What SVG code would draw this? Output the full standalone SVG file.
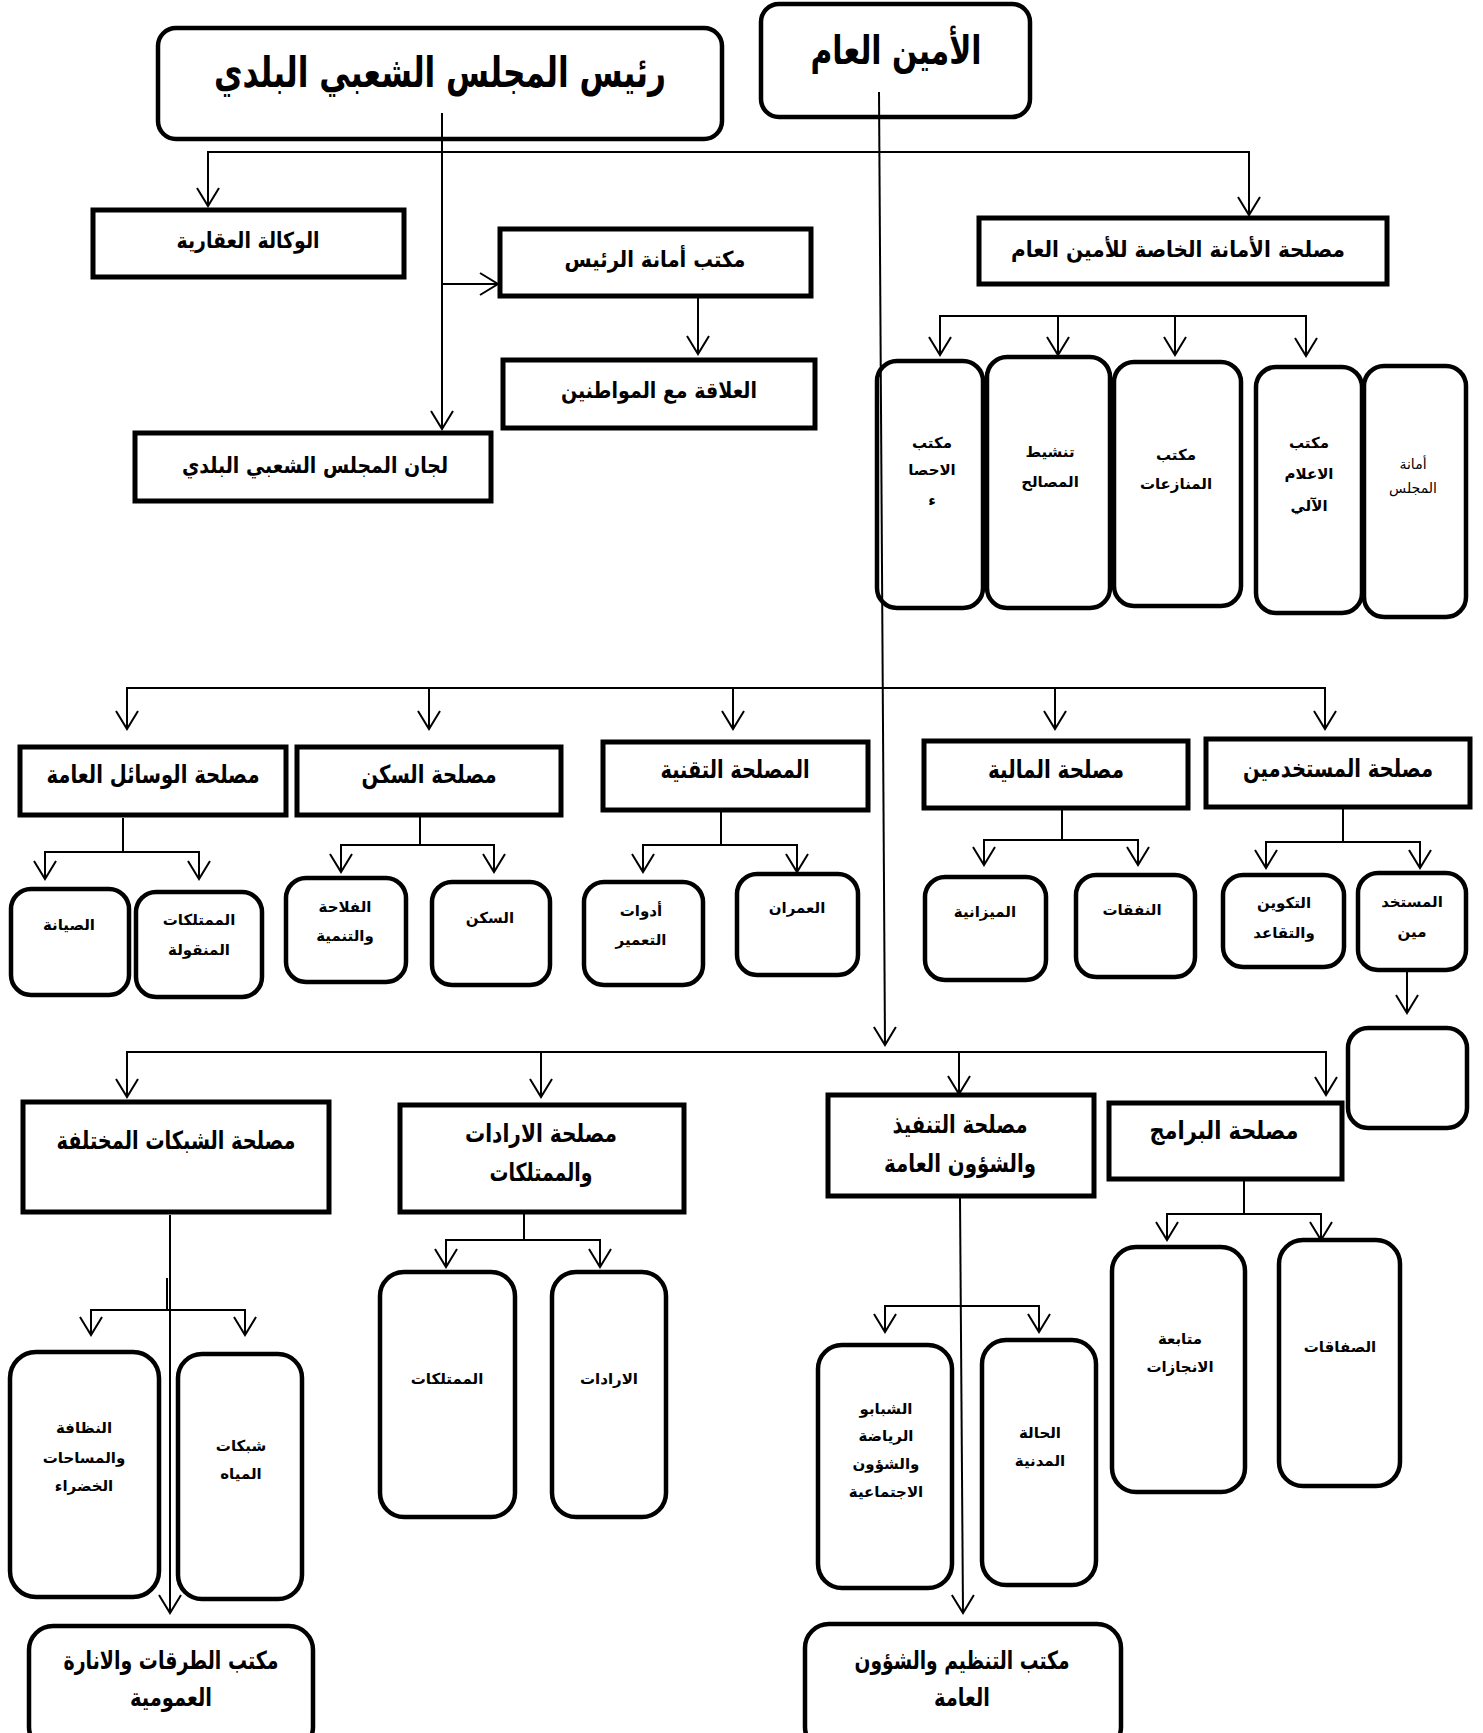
<svg xmlns="http://www.w3.org/2000/svg" width="1483" height="1733" viewBox="0 0 1483 1733">
<style>
  .bg{fill:#fff}
  .box{fill:#fff;stroke:#000;stroke-width:5}
  .rbox{fill:#fff;stroke:#000;stroke-width:4.5}
  .conn{fill:none;stroke:#000;stroke-width:2}
  text{font-family:"DejaVu Sans",sans-serif;font-weight:bold;fill:#000;text-anchor:middle;dominant-baseline:central}
  .t40{font-size:42px}
  .t36{font-size:40px}
  .t22{font-size:22px}
  .t24{font-size:25px}
  .t15{font-size:15px}
  .tn{font-size:14px;font-weight:normal}
</style>
<defs>
  <marker id="arr" markerUnits="userSpaceOnUse" viewBox="-20 -13 22 26" refX="0" refY="0" markerWidth="22" markerHeight="26" orient="auto" overflow="visible">
    <path d="M-18,-11 L0,0 L-18,11" fill="none" stroke="#000" stroke-width="2"/>
  </marker>
</defs>
<rect class="bg" x="0" y="0" width="1483" height="1733"/>

<g id="n-president"><rect class="rbox" x="158" y="28" width="564" height="111" rx="18"/><text class="t40" x="440" y="72" textLength="452" lengthAdjust="spacingAndGlyphs">رئيس المجلس الشعبي البلدي</text></g>
<g id="n-secretary-general"><rect class="rbox" x="761" y="4" width="269" height="113" rx="18"/><text class="t36" x="896" y="50" textLength="171" lengthAdjust="spacingAndGlyphs">الأمين العام</text></g>
<g id="n-wakala"><rect class="box" x="93" y="210" width="311" height="67"/><text class="t22" x="248" y="240" textLength="143" lengthAdjust="spacingAndGlyphs">الوكالة العقارية</text></g>
<g id="n-amana-rais"><rect class="box" x="500" y="229" width="311" height="67"/><text class="t22" x="655" y="259" textLength="181" lengthAdjust="spacingAndGlyphs">مكتب أمانة الرئيس</text></g>
<g id="n-alaqa"><rect class="box" x="503" y="360" width="312" height="68"/><text class="t22" x="659" y="390" textLength="196" lengthAdjust="spacingAndGlyphs">العلاقة مع المواطنين</text></g>
<g id="n-lijan"><rect class="box" x="135" y="433" width="356" height="68"/><text class="t22" x="315" y="465" textLength="266" lengthAdjust="spacingAndGlyphs">لجان المجلس الشعبي البلدي</text></g>
<g id="n-amana-khassa"><rect class="box" x="979" y="218" width="408" height="66"/><text class="t22" x="1178" y="249" textLength="334" lengthAdjust="spacingAndGlyphs">مصلحة الأمانة الخاصة للأمين العام</text></g>

<g id="n-ihsa"><rect class="rbox" x="877" y="361" width="106" height="247" rx="20"/><text class="t15" x="932" y="443">مكتب</text><text class="t15" x="932" y="470">الاحصا</text><text class="t15" x="932" y="500">ء</text></g>
<g id="n-tanshit"><rect class="rbox" x="987" y="357" width="123" height="251" rx="20"/><text class="t15" x="1050" y="452">تنشيط</text><text class="t15" x="1050" y="482">المصالح</text></g>
<g id="n-munazaat"><rect class="rbox" x="1114" y="362" width="127" height="244" rx="20"/><text class="t15" x="1176" y="455">مكتب</text><text class="t15" x="1176" y="484">المنازعات</text></g>
<g id="n-ilam"><rect class="rbox" x="1256" y="367" width="106" height="246" rx="20"/><text class="t15" x="1309" y="443">مكتب</text><text class="t15" x="1309" y="474">الاعلام</text><text class="t15" x="1309" y="506">الآلي</text></g>
<g id="n-amanat-majlis"><rect class="rbox" x="1364" y="366" width="102" height="251" rx="20"/><text class="tn" x="1413" y="464">أمانة</text><text class="tn" x="1413" y="488">المجلس</text></g>

<g id="n-wasail"><rect class="box" x="20" y="747" width="266" height="68"/><text class="t24" x="153" y="774" textLength="213" lengthAdjust="spacingAndGlyphs">مصلحة الوسائل العامة</text></g>
<g id="n-sakan"><rect class="box" x="297" y="747" width="264" height="68"/><text class="t24" x="429" y="774" textLength="135" lengthAdjust="spacingAndGlyphs">مصلحة السكن</text></g>
<g id="n-taqnia"><rect class="box" x="603" y="742" width="265" height="68"/><text class="t24" x="735" y="769" textLength="149" lengthAdjust="spacingAndGlyphs">المصلحة التقنية</text></g>
<g id="n-maliya"><rect class="box" x="924" y="741" width="264" height="67"/><text class="t24" x="1056" y="769" textLength="136" lengthAdjust="spacingAndGlyphs">مصلحة المالية</text></g>
<g id="n-mustakhdimin"><rect class="box" x="1206" y="739" width="264" height="68"/><text class="t24" x="1338" y="768" textLength="190" lengthAdjust="spacingAndGlyphs">مصلحة المستخدمين</text></g>

<g id="n-siyana"><rect class="rbox" x="11" y="889" width="118" height="106" rx="20"/><text class="t15" x="69" y="925">الصيانة</text></g>
<g id="n-manqula"><rect class="rbox" x="136" y="892" width="126" height="105" rx="20"/><text class="t15" x="199" y="920">الممتلكات</text><text class="t15" x="199" y="950">المنقولة</text></g>
<g id="n-filaha"><rect class="rbox" x="286" y="878" width="120" height="104" rx="20"/><text class="t15" x="345" y="907">الفلاحة</text><text class="t15" x="345" y="936">والتنمية</text></g>
<g id="n-sakan-sub"><rect class="rbox" x="432" y="882" width="118" height="103" rx="20"/><text class="t15" x="490" y="918">السكن</text></g>
<g id="n-adawat"><rect class="rbox" x="584" y="882" width="119" height="103" rx="20"/><text class="t15" x="641" y="911">أدوات</text><text class="t15" x="641" y="940">التعمير</text></g>
<g id="n-umran"><rect class="rbox" x="737" y="874" width="121" height="101" rx="20"/><text class="t15" x="797" y="908">العمران</text></g>
<g id="n-mizaniya"><rect class="rbox" x="925" y="877" width="121" height="103" rx="20"/><text class="t15" x="985" y="912">الميزانية</text></g>
<g id="n-nafaqat"><rect class="rbox" x="1076" y="875" width="119" height="102" rx="20"/><text class="t15" x="1132" y="910">النفقات</text></g>
<g id="n-takwin"><rect class="rbox" x="1223" y="875" width="121" height="92" rx="20"/><text class="t15" x="1284" y="903">التكوين</text><text class="t15" x="1284" y="933">والتقاعد</text></g>
<g id="n-mustakhd"><rect class="rbox" x="1358" y="873" width="108" height="97" rx="20"/><text class="t15" x="1412" y="902">المستخد</text><text class="t15" x="1412" y="932">مين</text></g>
<g id="n-empty"><rect class="rbox" x="1348" y="1028" width="119" height="100" rx="20"/></g>

<g id="n-shabakat"><rect class="box" x="23" y="1102" width="306" height="110"/><text class="t24" x="176" y="1140" textLength="239" lengthAdjust="spacingAndGlyphs">مصلحة الشبكات المختلفة</text></g>
<g id="n-iradat"><rect class="box" x="400" y="1105" width="284" height="107"/><text class="t24" x="541" y="1133" textLength="152" lengthAdjust="spacingAndGlyphs">مصلحة الارادات</text><text class="t24" x="541" y="1172" textLength="103" lengthAdjust="spacingAndGlyphs">والممتلكات</text></g>
<g id="n-tanfidh"><rect class="box" x="828" y="1095" width="266" height="101"/><text class="t24" x="960" y="1124" textLength="135" lengthAdjust="spacingAndGlyphs">مصلحة التنفيذ</text><text class="t24" x="960" y="1163" textLength="152" lengthAdjust="spacingAndGlyphs">والشؤون العامة</text></g>
<g id="n-baramij"><rect class="box" x="1109" y="1103" width="233" height="76"/><text class="t24" x="1224" y="1130" textLength="149" lengthAdjust="spacingAndGlyphs">مصلحة البرامج</text></g>

<g id="n-nadhafa"><rect class="rbox" x="10" y="1352" width="149" height="245" rx="26"/><text class="t15" x="84" y="1428">النظافة</text><text class="t15" x="84" y="1458">والمساحات</text><text class="t15" x="84" y="1486">الخضراء</text></g>
<g id="n-miyah"><rect class="rbox" x="178" y="1354" width="124" height="245" rx="24"/><text class="t15" x="241" y="1446">شبكات</text><text class="t15" x="241" y="1474">المياه</text></g>
<g id="n-mumtalakat"><rect class="rbox" x="380" y="1272" width="135" height="245" rx="24"/><text class="t15" x="447" y="1379">الممتلكات</text></g>
<g id="n-iradat-sub"><rect class="rbox" x="552" y="1272" width="114" height="245" rx="24"/><text class="t15" x="609" y="1379">الارادات</text></g>
<g id="n-shabab"><rect class="rbox" x="818" y="1345" width="134" height="243" rx="24"/><text class="t15" x="886" y="1409">الشبابو</text><text class="t15" x="886" y="1436">الرياضة</text><text class="t15" x="886" y="1464">والشؤون</text><text class="t15" x="886" y="1492">الاجتماعية</text></g>
<g id="n-hala"><rect class="rbox" x="982" y="1340" width="114" height="245" rx="24"/><text class="t15" x="1040" y="1433">الحالة</text><text class="t15" x="1040" y="1461">المدنية</text></g>
<g id="n-mutabaa"><rect class="rbox" x="1112" y="1247" width="133" height="245" rx="24"/><text class="t15" x="1180" y="1339">متابعة</text><text class="t15" x="1180" y="1367">الانجازات</text></g>
<g id="n-safaqat"><rect class="rbox" x="1279" y="1240" width="121" height="246" rx="24"/><text class="t15" x="1340" y="1347">الصفاقات</text></g>

<g id="n-turuqat"><rect class="rbox" x="29" y="1626" width="284" height="125" rx="24"/><text class="t24" x="171" y="1660" textLength="215" lengthAdjust="spacingAndGlyphs">مكتب الطرقات والانارة</text><text class="t24" x="171" y="1697" textLength="82" lengthAdjust="spacingAndGlyphs">العمومية</text></g>
<g id="n-tandhim"><rect class="rbox" x="805" y="1624" width="316" height="127" rx="24"/><text class="t24" x="962" y="1660" textLength="215" lengthAdjust="spacingAndGlyphs">مكتب التنظيم والشؤون</text><text class="t24" x="962" y="1697" textLength="56" lengthAdjust="spacingAndGlyphs">العامة</text></g>

<g id="connectors">
  <path class="conn" d="M442,113 V429" marker-end="url(#arr)"/>
  <path class="conn" d="M442,284 H498" marker-end="url(#arr)"/>
  <path class="conn" d="M700,152 H208 V206" marker-end="url(#arr)"/>
  <path class="conn" d="M700,152 H1249 V215" marker-end="url(#arr)"/>
  <path class="conn" d="M698,298 V354" marker-end="url(#arr)"/>
  <path class="conn" d="M879,92 L885,1045" marker-end="url(#arr)"/>
  <path class="conn" d="M1100,316 H940 V355" marker-end="url(#arr)"/>
  <path class="conn" d="M1058,316 V355" marker-end="url(#arr)"/>
  <path class="conn" d="M1175,316 V355" marker-end="url(#arr)"/>
  <path class="conn" d="M1100,316 H1306 V356" marker-end="url(#arr)"/>
  <path class="conn" d="M700,688 H127 V729" marker-end="url(#arr)"/>
  <path class="conn" d="M429,688 V729" marker-end="url(#arr)"/>
  <path class="conn" d="M733,688 V729" marker-end="url(#arr)"/>
  <path class="conn" d="M1055,688 V729" marker-end="url(#arr)"/>
  <path class="conn" d="M700,688 H1325 V729" marker-end="url(#arr)"/>
  <path class="conn" d="M123,818 V852"/>
  <path class="conn" d="M123,852 H45 V879" marker-end="url(#arr)"/>
  <path class="conn" d="M123,852 H199 V879" marker-end="url(#arr)"/>
  <path class="conn" d="M420,817 V845"/>
  <path class="conn" d="M420,845 H341 V872" marker-end="url(#arr)"/>
  <path class="conn" d="M420,845 H494 V872" marker-end="url(#arr)"/>
  <path class="conn" d="M721,812 V845"/>
  <path class="conn" d="M721,845 H643 V872" marker-end="url(#arr)"/>
  <path class="conn" d="M721,845 H797 V872" marker-end="url(#arr)"/>
  <path class="conn" d="M1062,810 V840"/>
  <path class="conn" d="M1062,840 H984 V865" marker-end="url(#arr)"/>
  <path class="conn" d="M1062,840 H1138 V865" marker-end="url(#arr)"/>
  <path class="conn" d="M1343,809 V842"/>
  <path class="conn" d="M1343,842 H1266 V868" marker-end="url(#arr)"/>
  <path class="conn" d="M1343,842 H1420 V868" marker-end="url(#arr)"/>
  <path class="conn" d="M1407,972 V1013" marker-end="url(#arr)"/>
  <path class="conn" d="M700,1052 H127 V1097" marker-end="url(#arr)"/>
  <path class="conn" d="M541,1052 V1097" marker-end="url(#arr)"/>
  <path class="conn" d="M959,1052 V1094" marker-end="url(#arr)"/>
  <path class="conn" d="M700,1052 H1326 V1095" marker-end="url(#arr)"/>
  <path class="conn" d="M170,1215 V1613" marker-end="url(#arr)"/>
  <path class="conn" d="M167,1278 V1310"/>
  <path class="conn" d="M168,1310 H91 V1335" marker-end="url(#arr)"/>
  <path class="conn" d="M168,1310 H245 V1335" marker-end="url(#arr)"/>
  <path class="conn" d="M524,1213 V1240"/>
  <path class="conn" d="M524,1240 H446 V1267" marker-end="url(#arr)"/>
  <path class="conn" d="M524,1240 H600 V1267" marker-end="url(#arr)"/>
  <path class="conn" d="M960,1198 L963,1613" marker-end="url(#arr)"/>
  <path class="conn" d="M961,1306 H885 V1332" marker-end="url(#arr)"/>
  <path class="conn" d="M961,1306 H1039 V1332" marker-end="url(#arr)"/>
  <path class="conn" d="M1244,1181 V1214"/>
  <path class="conn" d="M1244,1214 H1167 V1240" marker-end="url(#arr)"/>
  <path class="conn" d="M1244,1214 H1321 V1240" marker-end="url(#arr)"/>
</g>
</svg>
